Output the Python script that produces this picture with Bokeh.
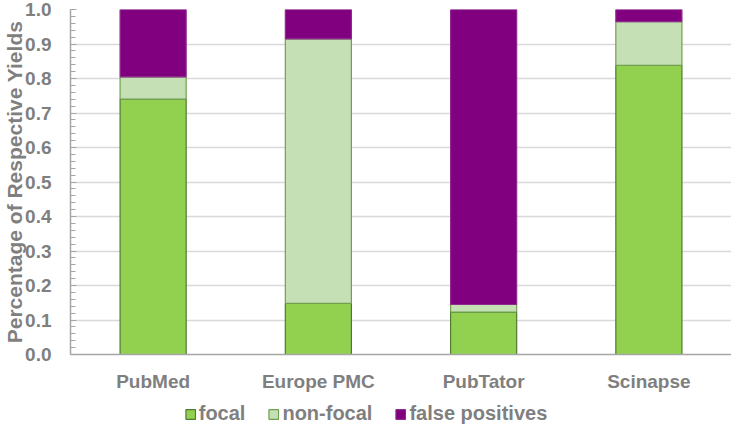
from bokeh.plotting import figure
from bokeh.layouts import column
from bokeh.models import Legend, LegendItem, FixedTicker, Range1d, CustomJSTickFormatter
from bokeh.embed import file_html
from bokeh.resources import INLINE

categories = ["PubMed", "Europe PMC", "PubTator", "Scinapse"]
focal = [0.74, 0.148, 0.123, 0.838]
non_focal = [0.065, 0.767, 0.022, 0.127]
false_positives = [0.195, 0.085, 0.855, 0.035]

series_names = ["focal", "non-focal", "false positives"]
colors = ["#92D050", "#C5E0B4", "#800080"]
borders = ["#4E7A2E", "#70A050", "#8E2A8E"]

p = figure(x_range=categories, frame_width=661, frame_height=345, output_backend="svg",
           toolbar_location=None, y_range=Range1d(0, 1.0),
           min_border_left=70, min_border_right=0, min_border_top=9, min_border_bottom=0)

data = dict(cat=categories, focal=focal, non_focal=non_focal, fp=false_positives)
p.vbar_stack(["focal", "non_focal", "fp"], x="cat", width=0.4, source=data,
             fill_color=colors, line_color=borders, line_width=1.2)

p.grid.grid_line_color = None
p.ygrid.grid_line_color = "#D9D9D9"
p.ygrid.grid_line_width = 1.5
p.outline_line_color = None
p.background_fill_color = "white"

p.yaxis.ticker = FixedTicker(ticks=[i / 10 for i in range(11)],
                             minor_ticks=[i / 50 for i in range(51)])
p.yaxis.formatter = CustomJSTickFormatter(code="return tick.toFixed(1);")
p.yaxis.axis_line_color = "#A6A6A6"
p.yaxis.axis_line_width = 1.5
p.yaxis.major_tick_line_color = "#A6A6A6"
p.yaxis.minor_tick_line_color = "#A6A6A6"
p.yaxis.major_tick_in = 6
p.yaxis.major_tick_out = 0
p.yaxis.minor_tick_in = 5
p.yaxis.minor_tick_out = 0
p.yaxis.major_label_text_font = "Liberation Sans"
p.yaxis.major_label_text_font_style = "bold"
p.yaxis.major_label_text_font_size = "19px"
p.yaxis.major_label_text_color = "#7F7F7F"
p.yaxis.major_label_standoff = 19
p.yaxis.axis_label = "Percentage of Respective Yields"
p.yaxis.axis_label_text_font = "Liberation Sans"
p.yaxis.axis_label_text_font_style = "bold"
p.yaxis.axis_label_text_font_size = "21px"
p.yaxis.axis_label_text_color = "#7F7F7F"
p.yaxis.axis_label_standoff = -4

p.xaxis.axis_line_color = "#A6A6A6"
p.xaxis.axis_line_width = 1.5
p.xaxis.major_tick_line_color = None
p.xaxis.minor_tick_line_color = None
p.xaxis.major_tick_in = 0
p.xaxis.major_tick_out = 0
p.xaxis.major_label_text_font = "Liberation Sans"
p.xaxis.major_label_text_font_style = "bold"
p.xaxis.major_label_text_font_size = "19px"
p.xaxis.major_label_text_color = "#7F7F7F"
p.xaxis.major_label_standoff = 16

# Legend strip: same series drawn off-range so that only their legend swatches show
q = figure(x_range=categories, y_range=Range1d(10, 11), frame_width=731, frame_height=35,
           output_backend="svg", toolbar_location=None, x_axis_type=None, y_axis_type=None,
           min_border_left=0, min_border_right=0, min_border_top=0, min_border_bottom=0)
q.grid.grid_line_color = None
q.outline_line_color = None
rs = q.vbar_stack(["focal", "non_focal", "fp"], x="cat", width=0.4, source=data,
                  fill_color=colors, line_color=borders, line_width=1.2)

legend = Legend(items=[LegendItem(label=n, renderers=[r]) for n, r in zip(series_names, rs)],
                orientation="horizontal", location="bottom_center",
                label_text_font="Liberation Sans", label_text_font_style="bold",
                label_text_font_size="20px", label_text_color="#7F7F7F",
                glyph_width=12, glyph_height=12, spacing=22, label_standoff=3,
                label_height=20, border_line_color=None, background_fill_alpha=0,
                padding=0, margin=4)
q.add_layout(legend, "center")

layout = column(p, q, spacing=0)
open("out.html", "w").write(file_html(layout, INLINE))
